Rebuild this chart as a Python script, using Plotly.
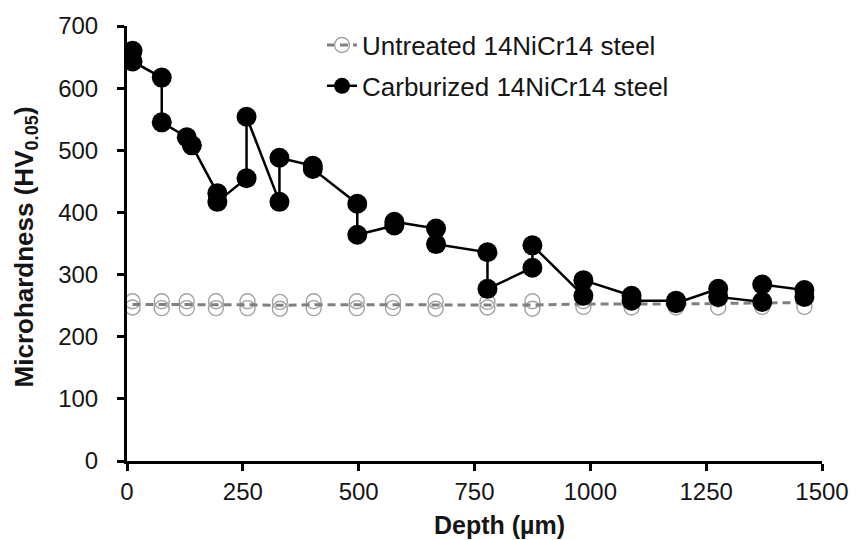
import plotly.graph_objects as go

# Carburized 14NiCr14 steel (path order as connected in the chart)
carb_depth = [12, 12, 75, 75, 129, 140, 195, 195, 258, 258, 329, 329, 401, 401,
              497, 497, 577, 577, 667, 667, 778, 778, 875, 875, 985, 985,
              1089, 1089, 1185, 1185, 1276, 1276, 1371, 1371, 1462, 1462]
carb_hv = [660, 643, 617, 545, 521, 508, 431, 417, 455, 554, 417, 488, 475, 470,
           414, 364, 379, 385, 374, 349, 336, 277, 311, 347, 266, 291,
           266, 258, 258, 254, 277, 264, 256, 284, 275, 264]

# Untreated 14NiCr14 steel (two readings per depth)
untr_depth = [12, 75, 129, 192, 260, 330, 403, 496, 574, 666, 778, 875, 985,
              1089, 1185, 1276, 1371, 1462]
untr_hv_a = [257, 257, 257, 257, 257, 256, 257, 257, 256, 257, 256, 257, 257,
             257, 258, 260, 261, 262]
untr_hv_b = [247, 246, 246, 246, 246, 245, 246, 246, 246, 245, 247, 245, 248,
             247, 247, 247, 248, 248]

x_ticks = [0, 250, 500, 750, 1000, 1250, 1500]
y_ticks = [0, 100, 200, 300, 400, 500, 600, 700]

untr_mean = [(a + b) / 2 for a, b in zip(untr_hv_a, untr_hv_b)]

FONT = "Liberation Sans, Arial, sans-serif"
TXT = "#151515"
GRAY_M = "#a3a3a3"
GRAY_L = "#808080"
DASH = "8px,5px"

fig = go.Figure()

# untreated markers
fig.add_trace(go.Scatter(
    x=untr_depth + untr_depth, y=untr_hv_a + untr_hv_b, mode="markers",
    marker=dict(symbol="circle-open", size=15, color=GRAY_M, line=dict(width=1.4, color=GRAY_M)),
    showlegend=False, legendgroup="u", hoverinfo="skip"))
# untreated dashed line
fig.add_trace(go.Scatter(
    x=untr_depth, y=untr_mean, mode="lines",
    line=dict(color=GRAY_L, width=3, dash=DASH),
    showlegend=False, legendgroup="u"))
# legend entry for untreated
fig.add_trace(go.Scatter(
    x=[None], y=[None], mode="lines+markers", name="Untreated 14NiCr14 steel",
    line=dict(color=GRAY_L, width=3, dash=DASH),
    marker=dict(symbol="circle-open", size=15, color=GRAY_M, line=dict(width=1.4, color=GRAY_M)),
    legendgroup="u"))

# carburized
fig.add_trace(go.Scatter(
    x=carb_depth, y=carb_hv, mode="lines+markers", name="Carburized 14NiCr14 steel",
    line=dict(color="black", width=2.5),
    marker=dict(symbol="circle", size=20, color="black"),
    legendgroup="c"))

fig.update_layout(
    width=866, height=540,
    margin=dict(l=127, r=44, t=21, b=79),
    paper_bgcolor="white", plot_bgcolor="white",
    font=dict(family=FONT, size=24, color=TXT),
    showlegend=True,
    legend=dict(x=0.2806, y=1.01, xanchor="left", yanchor="top",
                font=dict(family=FONT, size=26, color=TXT),
                traceorder="grouped", tracegroupgap=4,
                bgcolor="rgba(0,0,0,0)"),
    annotations=[
        dict(text="<b>Depth (µm)</b>", xref="paper", yref="paper",
             x=(500 - 127) / 695, y=(461 - 526) / 440, xanchor="center", yanchor="middle",
             showarrow=False, font=dict(family=FONT, size=25, color=TXT)),
        dict(text="<b>Microhardness (HV<sub>0.05</sub>)</b>", xref="paper", yref="paper",
             x=(25 - 127) / 695, y=(461 - 245) / 440, xanchor="center", yanchor="middle",
             textangle=-90, showarrow=False, font=dict(family=FONT, size=26, color=TXT)),
    ],
)

fig.update_xaxes(
    range=[0, 1500], tickvals=x_ticks, ticktext=[str(v) for v in x_ticks],
    showline=True, linecolor="black", linewidth=3,
    ticks="outside", ticklen=7, tickwidth=2.5, tickcolor="black",
    showgrid=False, zeroline=False, ticklabelstandoff=0,
    tickfont=dict(family=FONT, size=24, color=TXT),
)
fig.update_yaxes(
    range=[0, 700], tickvals=y_ticks, ticktext=[str(v) for v in y_ticks],
    showline=True, linecolor="black", linewidth=3,
    ticks="outside", ticklen=7, tickwidth=2.5, tickcolor="black",
    showgrid=False, zeroline=False, ticklabelstandoff=14,
    tickfont=dict(family=FONT, size=24, color=TXT),
)

fig.write_html("out.html")
